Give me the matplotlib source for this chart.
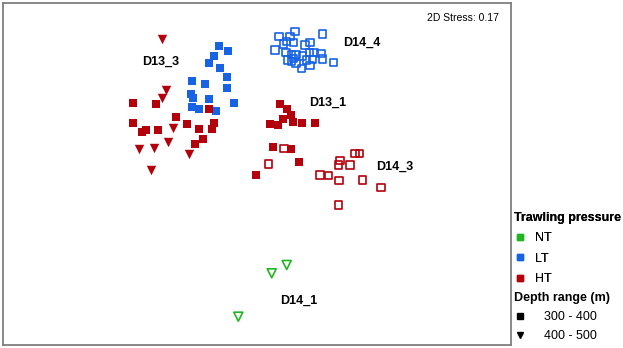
import matplotlib
matplotlib.use('Agg')
import matplotlib.pyplot as plt
from matplotlib.lines import Line2D

plt.rcParams['font.family'] = ['Liberation Sans', 'DejaVu Sans']

RED, BLUE, GREEN = '#b3000a', '#1763e3', '#22b522'

# nMDS ordination coordinates (arbitrary units, y grows downward)
lt_sq_x = [218.7, 227.7, 214.3, 209.3, 220.0, 227.3, 191.7, 205.0, 227.3, 191.0, 193.3, 209.3, 234.0, 191.7, 199.3, 216.0]
lt_sq_y = [45.7, 50.7, 56.0, 63.3, 68.3, 76.7, 80.7, 84.3, 88.3, 94.3, 98.3, 99.0, 103.3, 106.7, 109.3, 111.0]

lt_open_x = [295.0, 322.7, 279.0, 290.0, 286.7, 293.3, 283.3, 305.0, 310.0, 275.0, 286.0, 291.7, 296.0, 309.3,
             314.0, 321.0, 302.7, 287.3, 293.3, 306.7, 312.7, 322.7, 291.7, 296.0, 301.7, 310.0, 333.3]
lt_open_y = [31.7, 34.0, 36.7, 36.7, 41.7, 42.7, 44.0, 45.0, 42.7, 50.0, 52.7, 54.3, 54.3, 52.7,
             52.7, 53.3, 56.0, 60.0, 58.3, 60.0, 59.3, 59.0, 61.7, 63.3, 68.3, 65.7, 62.7]

ht_sq_x = [133.3, 156.0, 133.3, 146.0, 142.3, 158.3, 175.7, 187.3, 199.3, 209.3, 214.3, 211.7, 203.3, 194.7,
           280.0, 286.7, 290.7, 282.7, 292.7, 270.0, 277.7, 301.7, 315.0, 272.7, 291.0, 299.3, 256.0]
ht_sq_y = [103.3, 103.7, 123.3, 130.0, 132.3, 130.0, 116.7, 124.0, 128.7, 109.0, 122.7, 129.3, 139.3, 144.0,
           104.0, 109.0, 115.0, 119.3, 121.7, 124.0, 125.0, 123.3, 123.3, 147.3, 149.3, 161.7, 175.0]

ht_tri_x = [162.3, 166.0, 161.7, 173.3, 168.3, 139.0, 154.0, 189.3, 150.7]
ht_tri_y = [39.3, 90.0, 97.7, 128.3, 141.7, 149.3, 148.3, 154.0, 170.0]

ht_open_x = [284.0, 268.3, 355.0, 359.3, 340.0, 338.3, 350.0, 320.0, 328.3, 339.0, 362.3, 381.0, 338.3]
ht_open_y = [148.3, 164.0, 153.3, 153.3, 160.7, 165.0, 165.0, 175.0, 175.7, 180.7, 180.0, 187.3, 205.0]

nt_tri_x = [286.7, 271.7, 238.3]
nt_tri_y = [265.0, 273.3, 316.7]

site_labels = ['D13_3', 'D14_4', 'D13_1', 'D14_3', 'D14_1']
site_x = [142, 343, 309, 376, 280]
site_y = [62, 43, 103, 167, 301]

pressure_labels = ['NT', 'LT', 'HT']
pressure_colors = [GREEN, BLUE, RED]
depth_labels = ['300 - 400', '400 - 500']
depth_markers = ['s', 'v']

fig = plt.figure(figsize=(6.23, 3.48), dpi=100)
ax = fig.add_axes([3 / 623, 3 / 348, 508 / 623, 342 / 348])

ax.scatter(lt_sq_x, lt_sq_y, marker='s', s=31, color=BLUE, linewidths=0)
ax.scatter(lt_open_x, lt_open_y, marker='s', s=27, facecolors='none', edgecolors=BLUE, linewidths=1.2)
ax.scatter(ht_sq_x, ht_sq_y, marker='s', s=31, color=RED, linewidths=0)
ax.scatter(ht_tri_x, ht_tri_y, marker='v', s=46, color=RED, linewidths=0)
ax.scatter(ht_open_x, ht_open_y, marker='s', s=27, facecolors='none', edgecolors=RED, linewidths=1.2)
ax.scatter(nt_tri_x, nt_tri_y, marker='v', s=42, facecolors='none', edgecolors=GREEN, linewidths=1.2)

for lab, x, y in zip(site_labels, site_x, site_y):
    ax.text(x, y, lab, fontsize=9, fontweight='bold', ha='left', va='center')

ax.text(0.977, 0.97, '2D Stress: 0.17', transform=ax.transAxes, fontsize=7.5, ha='right', va='top')

ax.set_xlim(3, 511)
ax.set_ylim(345, 3)
ax.set_xticks([])
ax.set_yticks([])
for sp in ax.spines.values():
    sp.set_color('#7f7f7f')
    sp.set_linewidth(1.3)

title_font = {'weight': 'bold', 'size': 9}
h1 = [Line2D([], [], marker='s', ls='', color=c, markersize=4.5) for c in pressure_colors]
leg1 = fig.legend(h1, pressure_labels, title='Trawling pressure', loc='upper left',
                  bbox_to_anchor=(505 / 623, 1 - 203 / 348), frameon=False, fontsize=9,
                  title_fontproperties=title_font, alignment='left',
                  handlelength=1.0, handletextpad=0.7, labelspacing=0.68, borderpad=0.2)
h2 = [Line2D([], [], marker=m, ls='', color='black', markersize=5) for m in depth_markers]
leg2 = fig.legend(h2, depth_labels, title='Depth range (m)', loc='upper left',
                  bbox_to_anchor=(505 / 623, 1 - 283 / 348), frameon=False, fontsize=9,
                  title_fontproperties=title_font, alignment='left',
                  handlelength=1.0, handletextpad=1.4, labelspacing=0.58, borderpad=0.2)
fig.add_artist(leg1)

fig.savefig('out.png', dpi=100)
